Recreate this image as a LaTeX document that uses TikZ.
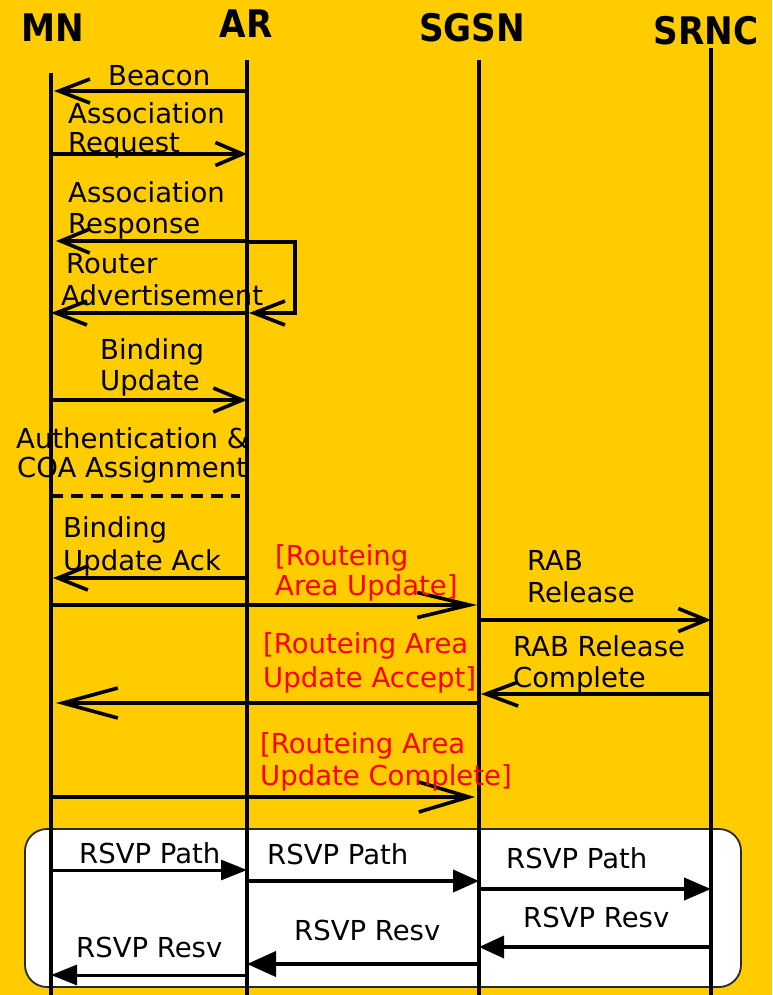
\documentclass[tikz,border=0pt]{standalone}
\usepackage{fontspec}
\setmainfont{DejaVu Sans}
\newfontfamily\headfont{DejaVu Sans Condensed}[BoldFont={DejaVu Sans Condensed Bold}]
\usetikzlibrary{arrows.meta}
\definecolor{bgyellow}{RGB}{255,204,0}
\definecolor{msgred}{RGB}{255,0,0}
\definecolor{boxedge}{RGB}{40,40,40}

\begin{document}
\begin{tikzpicture}[x=1pt,y=-1pt,
  life/.style={line width=3.6pt},
  msg/.style={line width=3.6pt},
  barb/.style 2 args={-{Straight Barb[length=#1pt,width=#2pt]}},
  tri/.style 2 args={-{Triangle[length=#1pt,width=#2pt]}},
  lbl/.style={inner sep=0pt, anchor=base west, font=\fontsize{27.5}{30}\selectfont},
  redlbl/.style={lbl, text=msgred},
  head/.style={inner sep=0pt, anchor=base, font=\headfont\bfseries\fontsize{38}{40}\selectfont}]

% canvas
\fill[bgyellow] (0,0) rectangle (772,995);
\useasboundingbox (0,0) rectangle (772,995);

% entity names
\node[head] (hMN) at (53,42) {MN};
\node[head] (hAR) at (246,38) {AR};
\node[head] (hSGSN) at (472,42) {SGSN};
\node[head] (hSRNC) at (706,45) {SRNC};

% lifeline tops
\coordinate (MN) at (51,73);
\coordinate (AR) at (247,60);
\coordinate (SGSN) at (479,60);
\coordinate (SRNC) at (711,48);

% RSVP frame
\draw[boxedge, fill=white, line width=1.8pt, rounded corners=22pt] (25,829) rectangle (741,987);

% lifelines
\foreach \e in {MN,AR,SGSN,SRNC}
  \draw[life] (\e) -- (\e |- 0,995);

% --- WLAN attachment ---
\draw[msg, barb={31}{24}, shorten >=3pt] (AR |- 0,91) -- (MN |- 0,91);
\node[lbl] (tBeacon) at (108,86) {Beacon};

\draw[msg, barb={27}{23}] (MN |- 0,154) -- (AR |- 0,154);
\node[lbl] (tAReq1) at (68,124) {Association};
\node[lbl] (tAReq2) at (68,153) {Request};

\draw[msg, barb={29}{24}, shorten >=5pt] (AR |- 0,241) -- (MN |- 0,241);
\node[lbl] (tARsp1) at (68,203) {Association};
\node[lbl] (tARsp2) at (68,233) {Response};

\draw[msg, barb={31}{24}, shorten >=2pt] (AR |- 0,242) -- (295,242) -- (295,313) -- (AR |- 0,313);

\draw[msg, barb={31}{24}] (AR |- 0,313) -- (MN |- 0,313);
\node[lbl] (tRA1) at (66,273) {Router};
\node[lbl] (tRA2) at (61,305) {Advertisement};

% --- Mobile IP binding ---
\draw[msg, barb={29}{24}] (MN |- 0,400) -- (AR |- 0,400);
\node[lbl] (tBU1) at (100,359) {Binding};
\node[lbl] (tBU2) at (100,390) {Update};

\node[lbl] (tAuth1) at (16,448) {Authentication \&};
\node[lbl] (tAuth2) at (17,477) {COA Assignment};
\coordinate (dashEnd) at (240,496);
\draw[line width=3.4pt, dash pattern=on 12pt off 8pt] (MN |- dashEnd) -- (dashEnd);

\draw[msg, barb={30}{24}, shorten >=2pt] (AR |- 0,578) -- (MN |- 0,578);
\node[lbl] (tBA1) at (63,537) {Binding};
\node[lbl] (tBA2) at (63,570) {Update Ack};

% --- GPRS routeing area update ---
\draw[msg, barb={52}{25}, shorten >=2pt] (MN |- 0,605) -- (SGSN |- 0,605);
\node[redlbl] (tRAU1) at (275,565) {[Routeing};
\node[redlbl] (tRAU2) at (275,595) {Area Update]};

\draw[msg, barb={28}{23}] (SGSN |- 0,620) -- (SRNC |- 0,620);
\node[lbl] (tRAB1) at (527,570) {RAB};
\node[lbl] (tRAB2) at (527,602) {Release};

\draw[msg, barb={32}{24}, shorten >=2pt] (SRNC |- 0,694) -- (SGSN |- 0,694);
\node[lbl] (tRABC1) at (513,656) {RAB Release};
\node[lbl] (tRABC2) at (513,687) {Complete};

\draw[msg, barb={55}{30}, shorten >=5pt] (SGSN |- 0,703) -- (MN |- 0,703);
\node[redlbl] (tRAUA1) at (263,653) {[Routeing Area};
\node[redlbl] (tRAUA2) at (263,687) {Update Accept]};

\draw[msg, barb={50}{30}, shorten >=4pt] (MN |- 0,797) -- (SGSN |- 0,797);
\node[redlbl] (tRAUC1) at (260,753) {[Routeing Area};
\node[redlbl] (tRAUC2) at (260,785) {Update Complete]};

% --- RSVP reservation ---
\draw[line width=3pt, tri={26}{20}] (MN |- 0,870) -- (AR |- 0,870);
\node[lbl] (tP1) at (79,863) {RSVP Path};
\draw[line width=4pt, tri={26}{22}] (AR |- 0,881) -- (SGSN |- 0,881);
\node[lbl] (tP2) at (267,864) {RSVP Path};
\draw[line width=4pt, tri={27}{22}] (SGSN |- 0,889) -- (SRNC |- 0,889);
\node[lbl] (tP3) at (506,868) {RSVP Path};

\draw[line width=3.6pt, tri={25}{22}] (SRNC |- 0,947) -- (SGSN |- 0,947);
\node[lbl] (tR1) at (523,927) {RSVP Resv};
\draw[line width=4pt, tri={29}{25}] (SGSN |- 0,964) -- (AR |- 0,964);
\node[lbl] (tR2) at (294,940) {RSVP Resv};
\draw[line width=3pt, tri={26}{20}] (AR |- 0,975) -- (MN |- 0,975);
\node[lbl] (tR3) at (76,957) {RSVP Resv};
\end{tikzpicture}
\end{document}
